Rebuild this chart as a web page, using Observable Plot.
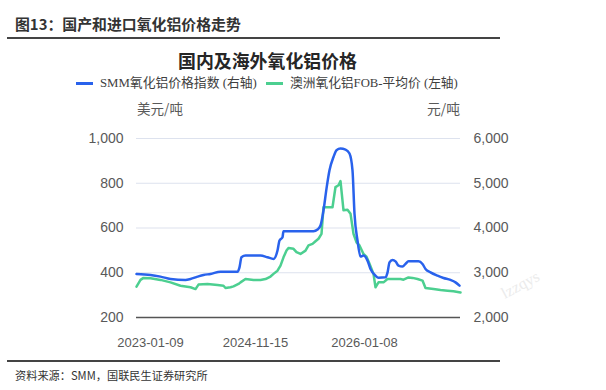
<!DOCTYPE html>
<html>
<head>
<meta charset="utf-8">
<script src="https://cdn.jsdelivr.net/npm/d3@7"></script>
<script src="https://cdn.jsdelivr.net/npm/@observablehq/plot@0.6"></script>
<style>
  html, body { margin: 0; padding: 0; background: #fff; }
  #wrap { position: relative; width: 606px; height: 390px; overflow: hidden; background: #fff;
          font-family: "Noto Sans CJK SC", "Liberation Sans", sans-serif; }
  #wrap > div { position: absolute; white-space: nowrap; }
  #chart { position: absolute; left: 0; top: 0; }
  .serif { font-family: "Liberation Serif", "Noto Sans CJK SC", serif; }
</style>
</head>
<body>
<div id="wrap">
  <div id="chart"></div>
  <div class="fit" data-w="226" style="left:15px; top:14px; font-size:15px; line-height:20px; font-weight:bold; color:#333;">图13：国产和进口氧化铝价格走势</div>
  <div style="left:7px; top:36.5px; width:493px; height:2.5px; background:#444;"></div>
  <div class="fit" data-w="179" data-cx="267.5" style="left:178px; top:48px; font-size:18px; line-height:24px; font-weight:bold; color:#262626;">国内及海外氧化铝价格</div>
  <div style="left:76px; top:81.5px; width:17px; height:3px; background:#2962ec;"></div>
  <div class="serif fit" data-w="157" style="left:100px; top:74px; font-size:14px; line-height:18px; color:#404040;">SMM氧化铝价格指数 (右轴)</div>
  <div style="left:266px; top:81.5px; width:17px; height:3px; background:#4ccf90;"></div>
  <div class="serif fit" data-w="168" style="left:290px; top:74px; font-size:14px; line-height:18px; color:#404040;">澳洲氧化铝FOB-平均价 (左轴)</div>
  <div class="fit" data-w="46" style="left:137px; top:99px; font-size:13.5px; line-height:18px; color:#595959;">美元/吨</div>
  <div class="fit" data-w="33" data-rx="460" style="left:427px; top:99px; font-size:13.5px; line-height:18px; color:#595959;">元/吨</div>
  <div style="left:7px; top:359.5px; width:493px; height:2.5px; background:#444;"></div>
  <div class="fit" data-w="193" style="left:15px; top:367px; font-size:11.5px; line-height:16px; color:#333;">资料来源：SMM，国联民生证券研究所</div>
  <div style="left:500px; top:276px; font-size:16px; color:#ebebeb; transform:rotate(-28deg); font-family:'Liberation Serif', serif;">lzzqys</div>
</div>
<script>
// X tick positions (sample index) and labels
const xTickIdx = [14, 119, 228];
const xTickLabels = ["2023-01-09", "2024-11-15", "2026-01-08"];

// Left axis ticks (USD/t); right axis = 5*left + 1000 (CNY/t)
const leftTicks = [200, 400, 600, 800, 1000];

// SMM alumina price index (right axis, CNY/t)
const smmIdx = [0, 14, 24, 34, 49, 54, 61, 67, 74, 84, 101, 103, 105, 109, 124, 131, 137, 141, 143, 146, 147,
  177, 181, 184, 187, 190, 193, 197, 200, 204, 209, 213, 216, 218, 221, 224, 227, 231, 234, 239, 242, 249,
  251, 253, 256, 259, 262, 266, 269, 272, 282, 286, 289, 294, 301, 307, 314, 319, 323];
const smmVal = [2973, 2951, 2913, 2861, 2839, 2861, 2913, 2951, 2973, 3025, 3025, 3121, 3346, 3384, 3384, 3346, 3310, 3496, 3720, 3794, 3928,
  3928, 3966, 4056, 4392, 4879, 5289, 5587, 5738, 5776, 5753, 5664, 5289, 4318, 3720, 3361, 3384, 3271, 3085, 2935, 2890, 2897,
  3002, 3233, 3287, 3256, 3159, 3137, 3197, 3256, 3256, 3197, 3085, 3009, 2935, 2884, 2839, 2785, 2711];

// Australia alumina FOB average (left axis, USD/t)
const fobIdx = [0, 4, 7, 14, 24, 34, 44, 54, 59, 62, 71, 81, 87, 89, 94, 97, 102, 104, 109, 117, 124, 129, 134, 137,
  141, 144, 147, 150, 152, 157, 160, 164, 169, 172, 176, 179, 182, 185, 187, 196, 199, 202, 204, 207, 211, 214,
  217, 220, 223, 227, 230, 233, 237, 239, 242, 247, 251, 264, 267, 272, 276, 281, 286, 289, 297, 304, 311, 317, 324];
const fobVal = [338, 368, 377, 375, 368, 357, 342, 335, 327, 347, 350, 345, 342, 332, 335, 339, 350, 357, 372, 368, 368, 372, 383, 395,
  409, 432, 469, 499, 511, 507, 492, 484, 499, 522, 529, 541, 552, 574, 693, 693, 783, 791, 810, 679, 682, 664,
  574, 536, 522, 484, 472, 440, 395, 335, 357, 357, 372, 372, 369, 379, 377, 372, 365, 332, 327, 323, 320, 317, 312];

const smm = smmIdx.map((i, k) => ({i, v: (smmVal[k] - 1000) / 5}));
const fob = fobIdx.map((i, k) => ({i, v: fobVal[k]}));

const fmt = d3.format(",");
const chart = Plot.plot({
  width: 606,
  height: 390,
  marginLeft: 136,
  marginRight: 146,
  marginTop: 138,
  marginBottom: 73,
  x: {domain: [0, 324], axis: null},
  y: {domain: [200, 1000], axis: null},
  style: {fontFamily: "'Liberation Sans', Arial, sans-serif", color: "#595959", background: "transparent", overflow: "visible"},
  marks: [
    Plot.ruleY(leftTicks.filter(d => d > 200), {stroke: "#dde2ee", strokeWidth: 1.2}),
    Plot.ruleY([200], {stroke: "#555", strokeWidth: 1.4}),
    Plot.axisY({anchor: "left", ticks: leftTicks, tickSize: 0, tickPadding: 13, fontSize: 14, tickFormat: fmt, label: null}),
    Plot.axisY({anchor: "right", ticks: leftTicks, tickSize: 0, tickPadding: 13, fontSize: 14, tickFormat: d => fmt(d * 5 + 1000), label: null}),
    Plot.axisX({ticks: xTickIdx, tickSize: 0, tickPadding: 20, fontSize: 13, tickFormat: d => xTickLabels[xTickIdx.indexOf(d)], label: null}),
    Plot.line(fob, {x: "i", y: "v", stroke: "#4ccf90", strokeWidth: 2.5}),
    Plot.line(smm, {x: "i", y: "v", stroke: "#2962ec", strokeWidth: 2.5, curve: "monotone-x"})
  ]
});
document.getElementById("chart").appendChild(chart);

// Fit text blocks to the widths measured in the reference
document.querySelectorAll(".fit").forEach(el => {
  const target = +el.dataset.w;
  const fs = parseFloat(el.style.fontSize);
  const w = el.getBoundingClientRect().width;
  if (w > 0) {
    let nf = fs * target / w;
    nf = Math.max(fs * 0.85, Math.min(fs * 1.15, nf));
    el.style.fontSize = nf + "px";
  }
  const w2 = el.getBoundingClientRect().width;
  if (el.dataset.cx) el.style.left = (+el.dataset.cx - w2 / 2) + "px";
  if (el.dataset.rx) el.style.left = (+el.dataset.rx - w2) + "px";
});
</script>
</body>
</html>
